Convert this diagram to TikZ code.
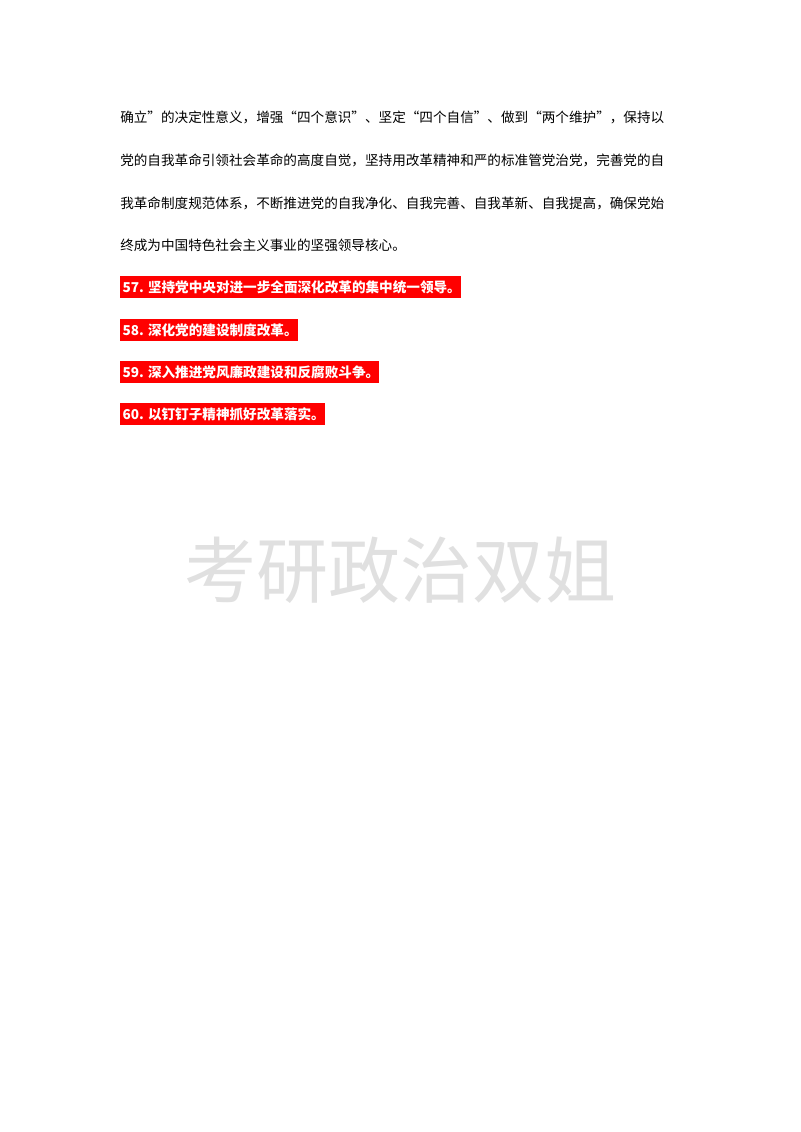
\documentclass[tikz,border=0pt]{standalone}
\usepackage{fontspec}
\setmainfont{Noto Sans CJK SC}
\usetikzlibrary{positioning}
\tikzset{
  body/.style  = {anchor=west, inner sep=0pt, font=\fontsize{10.2pt}{12pt}\selectfont},
  item/.style  = {anchor=west, inner sep=0pt, fill=red, text=white, minimum height=16.5pt,
                  font=\fontsize{10.2pt}{12pt}\selectfont\bfseries},
  watermark/.style = {text=black!12, font=\fontsize{54pt}{60pt}\selectfont}
}
\begin{document}
\begin{tikzpicture}[x=0.75pt,y=-0.75pt]
\useasboundingbox (0,0) rectangle (800,1132);

% body text, one node per printed line
\node[body] (l1) at (120,117) {确立”的决定性意义，增强“四个意识”、坚定“四个自信”、做到“两个维护”，保持以};
\node[body] (l2) at (120,160) {党的自我革命引领社会革命的高度自觉，坚持用改革精神和严的标准管党治党，完善党的自};
\node[body] (l3) at (120,203) {我革命制度规范体系，不断推进党的自我净化、自我完善、自我革新、自我提高，确保党始};
\node[body] (l4) at (120,245) {终成为中国特色社会主义事业的坚强领导核心。};

% highlighted items
\node[item] (i57) at (120,287) {\,57. 坚持党中央对进一步全面深化改革的集中统一领导。};
\node[item] (i58) at (120,330) {\,58. 深化党的建设制度改革。};
\node[item] (i59) at (120,372) {\,59. 深入推进党风廉政建设和反腐败斗争。};
\node[item] (i60) at (120,414) {\,60. 以钉钉子精神抓好改革落实。};

% watermark
\node[watermark] (wm) at (400,570) {考研政治双姐};
\end{tikzpicture}
\end{document}
